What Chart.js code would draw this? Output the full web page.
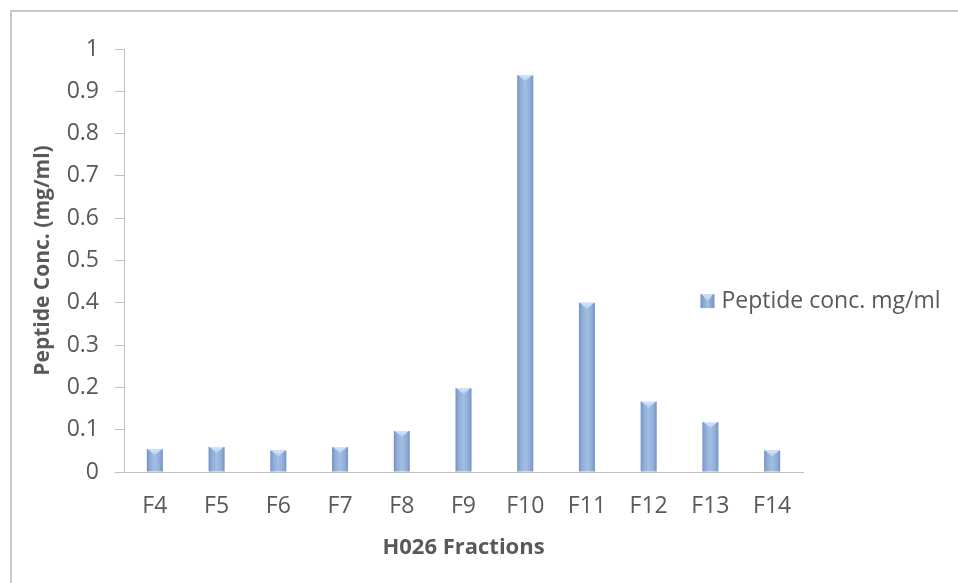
<!DOCTYPE html>
<html>
<head>
<meta charset="utf-8">
<script src="https://cdn.jsdelivr.net/npm/chart.js@4/dist/chart.umd.min.js"></script>
<style>
  html, body { margin: 0; padding: 0; background: #ffffff; }
  #wrap { width: 958px; height: 583px; }
  canvas { display: block; }
</style>
</head>
<body>
<div id="wrap"><canvas id="c" width="958" height="583"></canvas></div>
<script>
// Peptide concentration per collected fraction
const fractions = ['F4', 'F5', 'F6', 'F7', 'F8', 'F9', 'F10', 'F11', 'F12', 'F13', 'F14'];
const peptideConc = [0.054, 0.059, 0.051, 0.059, 0.097, 0.198, 0.938, 0.400, 0.166, 0.118, 0.051];
const seriesLabel = 'Peptide conc. mg/ml';
const xAxisTitle = 'H026 Fractions';
const yAxisTitle = 'Peptide Conc. (mg/ml)';
const yTickValues = [0, 0.1, 0.2, 0.3, 0.4, 0.5, 0.6, 0.7, 0.8, 0.9, 1];

const FONT = "'Open Sans', 'Noto Sans', sans-serif";
const TEXT = '#595959';
const AXIS = '#bfbfbf';
const BAR_PCT = 0.26;

// White page with the light grey frame of the chart object
const framePlugin = {
  id: 'frame',
  beforeDraw(chart) {
    const { ctx, width, height } = chart;
    ctx.save();
    ctx.fillStyle = '#ffffff';
    ctx.fillRect(0, 0, width, height);
    ctx.strokeStyle = '#c8c8c8';
    ctx.lineWidth = 2;
    ctx.beginPath();
    ctx.moveTo(11, height + 2);
    ctx.lineTo(11, 11);
    ctx.lineTo(width + 2, 11);
    ctx.stroke();
    ctx.restore();
  }
};

// Horizontal shading across each bar, located from the category scale
function barFill(context) {
  const chart = context.chart;
  const xs = chart.scales && chart.scales.x;
  if (!chart.chartArea || !xs || context.dataIndex === undefined) return '#95b3d7';
  const cx = xs.getPixelForValue(context.dataIndex);
  const half = (xs.width / fractions.length) * BAR_PCT / 2;
  const g = chart.ctx.createLinearGradient(cx - half, 0, cx + half, 0);
  g.addColorStop(0, '#7392c0');
  g.addColorStop(0.2, '#8fadd8');
  g.addColorStop(0.5, '#a2bee3');
  g.addColorStop(0.8, '#8fadd8');
  g.addColorStop(1, '#7392c0');
  return g;
}

// Light bevelled cap on top of every bar
const bevelPlugin = {
  id: 'bevel',
  afterDatasetsDraw(chart) {
    const ctx = chart.ctx;
    const meta = chart.getDatasetMeta(0);
    ctx.save();
    meta.data.forEach(bar => {
      const { x, y, width, base } = bar.getProps(['x', 'y', 'width', 'base'], true);
      const half = width / 2;
      const h = Math.min(width * 0.38, base - y);
      const g = ctx.createLinearGradient(0, y, 0, y + h);
      g.addColorStop(0, '#d6e6f9');
      g.addColorStop(1, '#b0cbee');
      ctx.fillStyle = g;
      ctx.beginPath();
      ctx.moveTo(x - half + 1, y);
      ctx.lineTo(x + half - 1, y);
      ctx.lineTo(x, y + h);
      ctx.closePath();
      ctx.fill();
    });
    ctx.restore();
  }
};

// Series key placed inside the right part of the plot
const keyPlugin = {
  id: 'seriesKey',
  afterDraw(chart) {
    const { ctx, chartArea } = chart;
    const ds = chart.data.datasets[0];
    const bx = chartArea.left + 0.849 * (chartArea.right - chartArea.left);
    const cy = chartArea.top + 0.596 * (chartArea.bottom - chartArea.top);
    const s = 14;
    ctx.save();
    const g = ctx.createLinearGradient(bx, 0, bx + s, 0);
    g.addColorStop(0, '#7392c0');
    g.addColorStop(0.5, '#a2bee3');
    g.addColorStop(1, '#7392c0');
    ctx.fillStyle = g;
    ctx.fillRect(bx, cy - s / 2, s, s);
    ctx.fillStyle = '#c6dbf4';
    ctx.beginPath();
    ctx.moveTo(bx + 1, cy - s / 2);
    ctx.lineTo(bx + s - 1, cy - s / 2);
    ctx.lineTo(bx + s / 2, cy);
    ctx.closePath();
    ctx.fill();
    ctx.fillStyle = TEXT;
    ctx.font = `23px ${FONT}`;
    ctx.textBaseline = 'middle';
    ctx.textAlign = 'left';
    ctx.fillText(ds.label, bx + s + 7, cy);
    ctx.restore();
  }
};

new Chart(document.getElementById('c'), {
  type: 'bar',
  data: {
    labels: fractions,
    datasets: [{
      label: seriesLabel,
      data: peptideConc,
      backgroundColor: barFill,
      borderWidth: 0,
      barPercentage: BAR_PCT,
      categoryPercentage: 1
    }]
  },
  options: {
    responsive: false,
    animation: false,
    layout: { padding: { left: 11, top: 49, right: 155, bottom: 0 } },
    plugins: {
      legend: { display: false },
      tooltip: { enabled: false }
    },
    scales: {
      x: {
        grid: { display: true, drawOnChartArea: false, drawTicks: false },
        border: { color: AXIS, width: 1 },
        ticks: { color: TEXT, font: { family: FONT, size: 23 }, padding: 21, maxRotation: 0 },
        title: {
          display: true, text: xAxisTitle, color: TEXT,
          font: { family: FONT, size: 22, weight: 'bold' },
          padding: { top: 0, bottom: 22 }
        },
        afterFit(scale) { scale.height = 111; }
      },
      y: {
        min: 0, max: 1,
        afterBuildTicks(scale) { scale.ticks = yTickValues.map(v => ({ value: v })); },
        grid: { drawOnChartArea: false, drawTicks: true, tickLength: 9, color: AXIS },
        border: { color: AXIS, width: 1 },
        ticks: {
          color: TEXT, font: { family: FONT, size: 23 }, padding: 16,
          callback: v => String(+Number(v).toFixed(1))
        },
        title: {
          display: true, text: yAxisTitle, color: TEXT,
          font: { family: FONT, size: 21, weight: 'bold' },
          padding: { top: 19, bottom: 0 }
        },
        afterFit(scale) { scale.width = 113; }
      }
    }
  },
  plugins: [framePlugin, bevelPlugin, keyPlugin]
});
</script>
</body>
</html>
